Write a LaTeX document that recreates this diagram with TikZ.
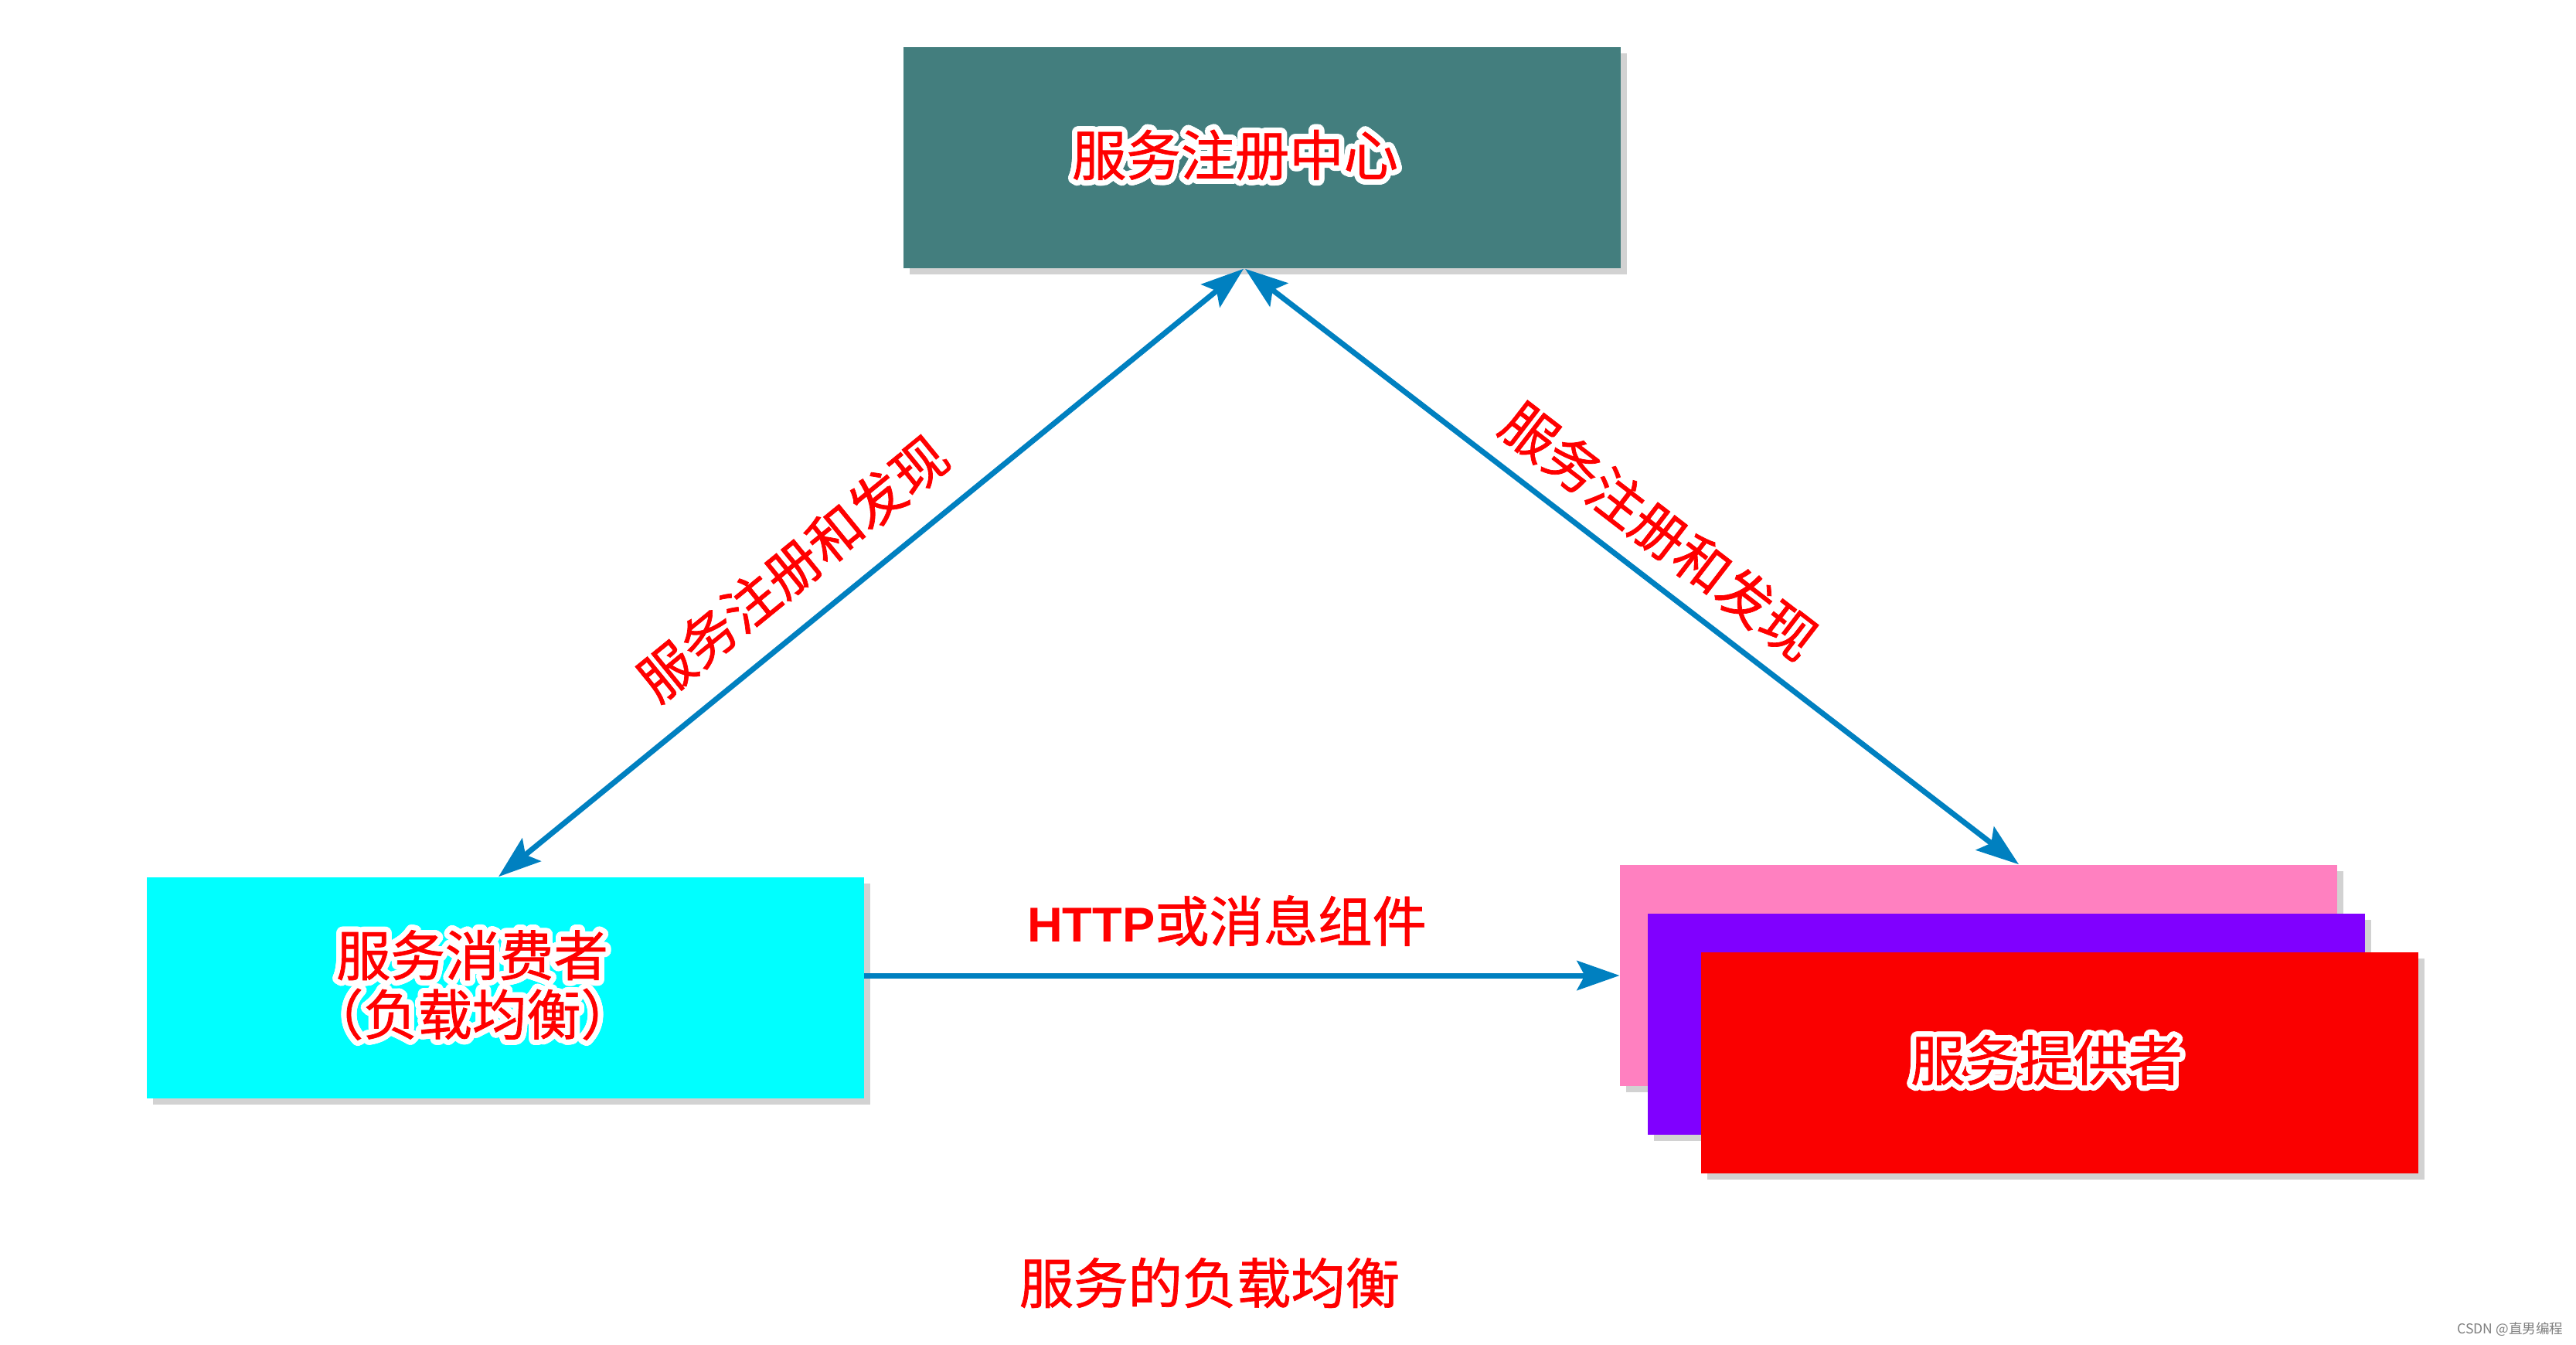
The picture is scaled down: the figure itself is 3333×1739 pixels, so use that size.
\documentclass[tikz,border=0pt]{standalone}
\usepackage{fontspec}
\usepackage{contour}
\usetikzlibrary{arrows.meta,shadows}
\newfontfamily\cjk[FakeBold=1]{Noto Sans CJK SC}
\newfontfamily\cjkthin{Noto Sans CJK SC}
\newfontfamily\hei{Liberation Sans}
\definecolor{qinglv}{RGB}{67,126,126}
\definecolor{qing}{RGB}{0,255,255}
\definecolor{fenhong}{RGB}{255,128,192}
\definecolor{zise}{RGB}{128,0,255}
\definecolor{hong}{RGB}{250,0,0}
\definecolor{hongzi}{RGB}{255,0,0}
\definecolor{lanse}{RGB}{0,128,192}
\contourlength{2pt}
\contournumber{32}
\newcommand{\wz}[1]{\contour{white}{#1}}
\begin{document}
\begin{tikzpicture}[x=0.01cm,y=-0.01cm,
		kuang/.style={minimum width=9.27cm,minimum height=2.86cm,inner sep=0pt,
			drop shadow={shadow xshift=.8mm,shadow yshift=-.8mm,opacity=.35},
			text=hongzi,font=\cjk\fontsize{20}{21}\selectfont},
		jiantou/.style={draw=lanse,line width=2pt,-{Stealth[length=5.5mm,width=3.8mm,inset=1mm]}},
		shuang/.style={jiantou,{Stealth[length=5.5mm,width=3.8mm,inset=1mm]}-{Stealth[length=5.5mm,width=3.8mm,inset=1mm]}},
		biaoqian/.style={text=hongzi,font=\cjk\fontsize{20}{21}\selectfont}]
		\fill[white] (0,0) rectangle (3333,1739);
		\useasboundingbox (0,0) rectangle (3333,1739);
		
		\node[kuang,fill=qinglv] (ZC) at (1633,204) {\wz{服务注册中心}\hspace*{0.7cm}};
		\node[kuang,fill=qing,align=center,font=\cjk\fontsize{20}{19}\selectfont] (XF) at (654,1278) {\wz{服务消费者}\hspace*{0.86cm}\\\wz{（负载均衡）}\hspace*{0.86cm}};
		\node[kuang,fill=fenhong] (TA) at (2560,1262) {};
		\node[kuang,fill=zise] (TB) at (2596,1325) {};
		\node[kuang,fill=hong] (TC) at (2665,1375) {\wz{服务提供者}\hspace*{0.34cm}};
		
		\draw[shuang] ([xshift=-0.09cm]XF.north) -- ([xshift=-0.24cm]ZC.south)
			node[pos=.44,sloped,above=4pt,biaoqian] {\wz{服务注册和发现}};
		\draw[shuang] ([xshift=-0.22cm]ZC.south) -- ([xshift=0.52cm]TA.north)
			node[pos=.5,sloped,above=1pt,biaoqian] {\wz{服务注册和发现}};
		\draw[jiantou] (XF.east |- TA.west) -- (TA.west)
			node[pos=.48,above=4.5pt,biaoqian] {\wz{{\hei\bfseries\fontsize{18}{21}\selectfont HTTP}或消息组件}};
		
		\node[biaoqian] (BT) at (1565,1663) {\wz{服务的负载均衡}};
		\node[anchor=east,inner sep=0pt,text=gray,font=\cjkthin\fontsize{5}{6}\selectfont] (SY) at (3317,1720) {CSDN @直男编程};
\end{tikzpicture}
\end{document}
